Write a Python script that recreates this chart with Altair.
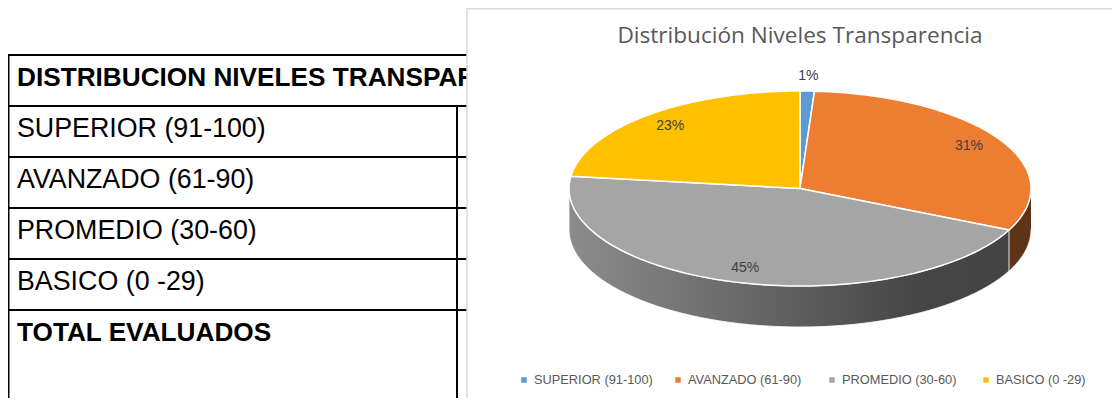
import altair as alt
import pandas as pd

# ---------------- data ----------------
categories = ["SUPERIOR (91-100)", "AVANZADO (61-90)", "PROMEDIO (30-60)", "BASICO (0 -29)"]
percentages = [1, 31, 45, 23]
table_rows = ["DISTRIBUCION NIVELES TRANSPARENCIA", "SUPERIOR (91-100)", "AVANZADO (61-90)",
              "PROMEDIO (30-60)", "BASICO (0 -29)", "TOTAL EVALUADOS"]
table_bold = [True, False, False, False, False, True]
title_text = "Distribución Niveles Transparencia"

# ---------------- styles / layout ----------------
top_colors = ["#5B9BD5", "#ED7D31", "#A5A5A5", "#FFC000"]
side_colors = ["#4D84B5", "#C46A30", "#8C8C8C", "#D9A300"]
FONT = "Liberation Sans"
W, H = 1104, 390
XS = alt.Scale(domain=[8, 8 + W], nice=False, zero=False)
YS = alt.Scale(domain=[8, 8 + H], nice=False, zero=False, reverse=True)
CX, CY, RX, RY, DEPTH = 800, 188.5, 231, 97.5, 41
N = 60
R_IN, R_OUT = 0.85, 1.15
ROW_TOP, ROW_H = 55, 51
LEG_X0, LEG_STEP, LEG_Y = 524, 154, 380

pie_df = pd.DataFrame({"cat": categories, "pct": percentages, "idx": list(range(len(categories)))})
table_df = pd.DataFrame({"row": table_rows, "bold": table_bold, "r": list(range(len(table_rows)))})

X = lambda f: alt.X(f, scale=XS, axis=None)
Y = lambda f: alt.Y(f, scale=YS, axis=None)

# ---------------- table ----------------
tbase = alt.Chart(table_df).transform_calculate(
    ly=f"{ROW_TOP} + datum.r * {ROW_H}"
).transform_calculate(
    ty="datum.ly + 30.5", tx="17"
)
row_rules = tbase.mark_rule(color="black", strokeWidth=2).encode(
    y=Y("ly:Q"), x=alt.value(0), x2=alt.value(462)
)
one = alt.Data(values=[{"k": 1}])
left_rule = alt.Chart(one).mark_rule(color="black", strokeWidth=2).encode(
    x=alt.value(0.5), y=alt.value(ROW_TOP - 9), y2=alt.value(H)
)
inner_rule = alt.Chart(one).mark_rule(color="black", strokeWidth=2).encode(
    x=alt.value(449), y=alt.value(ROW_TOP + ROW_H - 9), y2=alt.value(H)
)
row_text_bold = tbase.transform_filter("datum.bold").mark_text(
    font=FONT, fontSize=26.2, fontWeight="bold", align="left", baseline="alphabetic", color="black"
).encode(x=X("tx:Q"), y=Y("ty:Q"), text="row:N")
row_text = tbase.transform_filter("!datum.bold").mark_text(
    font=FONT, fontSize=26.8, align="left", baseline="alphabetic", color="black"
).encode(x=X("tx:Q"), y=Y("ty:Q"), text="row:N")

# ---------------- chart box ----------------
box = alt.Chart(one).mark_rect(fill="white", stroke="#D9D9D9", strokeWidth=1.5).encode(
    x=alt.value(459), x2=alt.value(W + 20), y=alt.value(0.75), y2=alt.value(H + 20)
)

# ---------------- pie ----------------
base = alt.Chart(pie_df).transform_joinaggregate(
    total="sum(pct)"
).transform_window(
    cum="sum(pct)", sort=[alt.SortField("idx")]
).transform_calculate(
    t0="2*PI*(datum.cum - datum.pct)/datum.total"
).transform_calculate(
    t1="2*PI*datum.cum/datum.total"
)

top_scale = alt.Scale(domain=categories, range=top_colors)
side_scale = alt.Scale(domain=categories, range=side_colors)

top = base.transform_calculate(
    i=f"sequence(-1, {N + 2})"
).transform_flatten(["i"]).transform_calculate(
    t=f"datum.t0 + (datum.t1 - datum.t0) * datum.i / {N}"
).transform_calculate(
    px=f"(datum.i < 0 || datum.i > {N}) ? {CX} : {CX} + {RX} * sin(datum.t)"
).transform_calculate(
    py=f"(datum.i < 0 || datum.i > {N}) ? {CY} : {CY} - {RY} * cos(datum.t)"
).mark_line(stroke="white", strokeWidth=1.5, strokeJoin="round").encode(
    x=X("px:Q"), y=Y("py:Q"),
    fill=alt.Fill("cat:N", scale=top_scale, legend=None),
    order=alt.Order("i:Q"),
)

side_base = base.transform_calculate(
    a0="max(datum.t0, PI/2)"
).transform_calculate(
    a1="min(datum.t1, 3*PI/2)"
).transform_filter("datum.a1 > datum.a0").transform_calculate(
    i=f"sequence(0, {2 * N + 2})"
).transform_flatten(["i"]).transform_calculate(
    t=f"datum.i <= {N} ? datum.a0 + (datum.a1 - datum.a0) * datum.i / {N} : datum.a1 - (datum.a1 - datum.a0) * (datum.i - {N + 1}) / {N}"
).transform_calculate(
    px=f"{CX} + {RX} * sin(datum.t)"
).transform_calculate(
    py=f"{CY} - {RY} * cos(datum.t) + (datum.i > {N} ? {DEPTH} : 0)"
)
side_fill = side_base.mark_line(strokeWidth=0, stroke="transparent").encode(
    x=X("px:Q"), y=Y("py:Q"),
    fill=alt.Fill("cat:N", scale=side_scale, legend=None),
    order=alt.Order("i:Q"),
)
side_outline = side_base.mark_line(stroke="white", strokeWidth=1, strokeOpacity=0.85).encode(
    x=X("px:Q"), y=Y("py:Q"),
    detail="cat:N",
    order=alt.Order("i:Q"),
)

shade = alt.Chart(one).transform_calculate(
    i=f"sequence(0, {2 * N + 2})"
).transform_flatten(["i"]).transform_calculate(
    t=f"datum.i <= {N} ? PI/2 + PI * datum.i / {N} : 3*PI/2 - PI * (datum.i - {N + 1}) / {N}"
).transform_calculate(
    px=f"{CX} + {RX} * sin(datum.t)"
).transform_calculate(
    py=f"{CY} - {RY} * cos(datum.t) + (datum.i > {N} ? {DEPTH} : 0)"
).mark_line(
    stroke="transparent", strokeWidth=0,
    fill=alt.LinearGradient(
        gradient="linear", x1=0, x2=1, y1=0, y2=0,
        stops=[alt.GradientStop(color="rgba(0,0,0,0)", offset=0),
               alt.GradientStop(color="rgba(0,0,0,0.5)", offset=0.75),
               alt.GradientStop(color="rgba(0,0,0,0.52)", offset=1)],
    ),
).encode(x=X("px:Q"), y=Y("py:Q"), order=alt.Order("i:Q"))

labels = base.transform_calculate(
    mid="(datum.t0 + datum.t1) / 2"
).transform_calculate(
    r=f"datum.pct / datum.total < 0.05 ? {R_OUT} : {R_IN}"
).transform_calculate(
    lx=f"{CX} + {RX} * datum.r * sin(datum.mid)"
).transform_calculate(
    ly=f"{CY} - {RY} * datum.r * cos(datum.mid)"
).transform_calculate(
    txt="format(datum.pct / datum.total, '.0%')"
).mark_text(font=FONT, fontSize=14, color="#404040", align="center", baseline="middle").encode(
    x=X("lx:Q"), y=Y("ly:Q"), text="txt:N"
)

title = alt.Chart(alt.Data(values=[{"t": title_text}])).mark_text(
    font="Open Sans", fontSize=22.6, color="#595959", align="center", baseline="alphabetic"
).encode(x=alt.value(CX - 8), y=alt.value(43 - 8), text="t:N")

# ---------------- legend ----------------
leg = alt.Chart(pie_df).transform_calculate(
    lx=f"{LEG_X0} + datum.idx * {LEG_STEP}"
).transform_calculate(
    ly=f"{LEG_Y}"
).transform_calculate(
    tx="datum.lx + 10"
)
leg_sq = leg.mark_square(size=30, opacity=1).encode(
    x=X("lx:Q"), y=Y("ly:Q"), color=alt.Color("cat:N", scale=top_scale, legend=None)
)
leg_tx = leg.mark_text(font=FONT, fontSize=12.8, color="#595959", align="left", baseline="middle").encode(
    x=X("tx:Q"), y=Y("ly:Q"), text="cat:N"
)

chart = alt.layer(
    row_rules, left_rule, inner_rule, row_text_bold, row_text,
    box, side_fill, shade, side_outline, top, labels, title, leg_sq, leg_tx
).resolve_scale(
    fill="independent", color="independent"
).properties(
    width=W, height=H, padding=0, autosize=alt.AutoSizeParams(type="none"),
    background="white"
).configure_view(stroke=None)

chart.save("out.html", embed_options={"renderer": "svg", "actions": False})
